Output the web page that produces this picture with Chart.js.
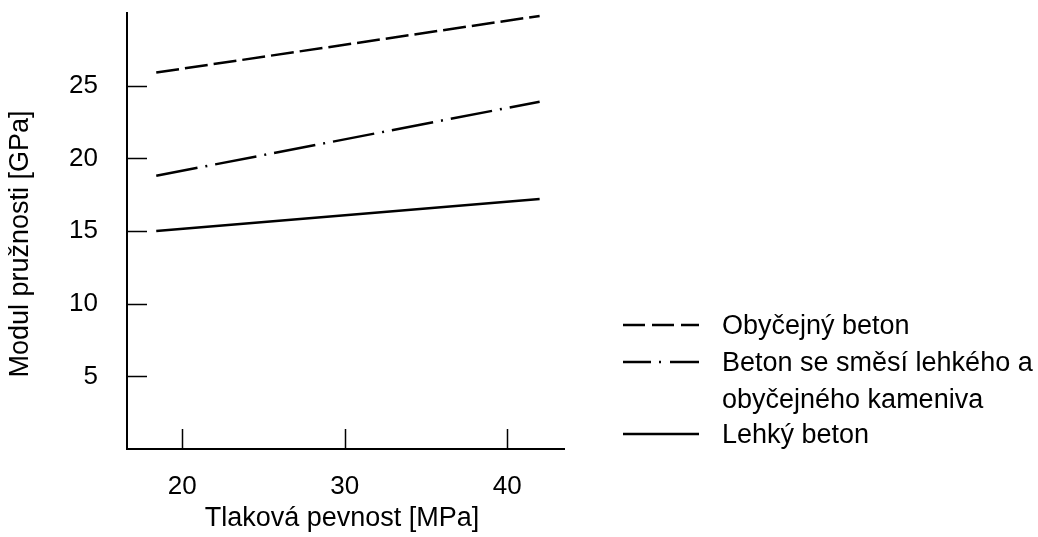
<!DOCTYPE html>
<html>
<head>
<meta charset="utf-8">
<script src="https://cdn.jsdelivr.net/npm/chart.js@4.4.1/dist/chart.umd.min.js"></script>
<style>
  body { margin: 0; background: #fff; }
  canvas { display: block; }
</style>
</head>
<body>
<canvas id="modulChart" width="1038" height="537"></canvas>
<script>
// data
const seriesNames = [
  ["Obyčejný beton"],
  ["Beton se směsí lehkého a", "obyčejného kameniva"],
  ["Lehký beton"]
];
const strengthX = [18.4, 42];          // Tlaková pevnost [MPa]
const obycejnyBeton = [25.9, 29.8];    // Modul pružnosti [GPa]
const smesBeton = [18.8, 23.9];
const lehkyBeton = [15.0, 17.2];
const xTicks = [20, 30, 40];
const yTicks = [5, 10, 15, 20, 25];

const FONT = "'Liberation Sans', Arial, sans-serif";
const dashes = [[23, 6], [42, 8, 2, 8], []];
const legendDashes = [[22, 7], [28, 8, 2, 9, 40], []];

const toPoints = (ys) => strengthX.map((x, i) => ({ x: x, y: ys[i] }));

// no extra room for half tick labels, the chart area is fixed by padding
const noPadding = (scale) => {
  scale.paddingTop = 0;
  scale.paddingBottom = 0;
  scale.paddingLeft = 0;
  scale.paddingRight = 0;
};

// inward ticks, axis titles and the legend on the right
const decorPlugin = {
  id: "decor",
  afterDraw(chart) {
    const ctx = chart.ctx;
    const xs = chart.scales.x;
    const ys = chart.scales.y;
    const area = chart.chartArea;

    ctx.save();
    ctx.strokeStyle = "#000";
    ctx.lineWidth = 1.5;
    ctx.beginPath();
    yTicks.forEach((v) => {
      const py = Math.round(ys.getPixelForValue(v)) + 0.5;
      ctx.moveTo(area.left, py);
      ctx.lineTo(area.left + 20, py);
    });
    xTicks.forEach((v) => {
      const px = Math.round(xs.getPixelForValue(v)) + 0.5;
      ctx.moveTo(px, area.bottom);
      ctx.lineTo(px, area.bottom - 20);
    });
    ctx.stroke();

    // axis titles
    ctx.fillStyle = "#000";
    ctx.font = "27px " + FONT;
    ctx.textAlign = "center";
    ctx.textBaseline = "alphabetic";
    ctx.fillText("Tlaková pevnost [MPa]", 342, 526);
    ctx.save();
    ctx.translate(28, 244);
    ctx.rotate(-Math.PI / 2);
    ctx.fillText("Modul pružnosti [GPa]", 0, 0);
    ctx.restore();

    // legend
    const lineY = [325, 362, 434];
    ctx.textAlign = "left";
    ctx.textBaseline = "middle";
    ctx.lineWidth = 2.5;
    seriesNames.forEach((name, i) => {
      ctx.setLineDash(legendDashes[i]);
      ctx.beginPath();
      ctx.moveTo(623, lineY[i]);
      ctx.lineTo(699, lineY[i]);
      ctx.stroke();
      ctx.setLineDash([]);
      name.forEach((txt, j) => {
        ctx.fillText(txt, 722, lineY[i] + 2 + j * 37);
      });
    });
    ctx.restore();
  }
};

new Chart(document.getElementById("modulChart"), {
  type: "scatter",
  data: {
    datasets: [
      { label: seriesNames[0].join(" "), data: toPoints(obycejnyBeton), borderDash: dashes[0] },
      { label: seriesNames[1].join(" "), data: toPoints(smesBeton), borderDash: dashes[1] },
      { label: seriesNames[2].join(" "), data: toPoints(lehkyBeton), borderDash: dashes[2] }
    ].map((ds) => Object.assign(ds, {
      showLine: true,
      borderColor: "#000",
      backgroundColor: "#000",
      borderWidth: 2.5,
      pointRadius: 0,
      tension: 0,
      fill: false
    }))
  },
  options: {
    responsive: false,
    animation: false,
    layout: { padding: { top: 13, right: 474, bottom: 0, left: 0 } },
    plugins: {
      legend: { display: false },
      tooltip: { enabled: false }
    },
    scales: {
      x: {
        type: "linear",
        min: 16.6,
        max: 43.5,
        afterBuildTicks: (scale) => { scale.ticks = xTicks.map((v) => ({ value: v })); },
        afterFit: (scale) => { scale.height = 88; noPadding(scale); },
        grid: { drawOnChartArea: false, drawTicks: false },
        border: { display: true, color: "#000", width: 2 },
        ticks: { padding: 22, color: "#000", font: { family: FONT, size: 26 } }
      },
      y: {
        type: "linear",
        min: 0,
        max: 30,
        afterBuildTicks: (scale) => { scale.ticks = yTicks.map((v) => ({ value: v })); },
        afterFit: (scale) => { scale.width = 127; noPadding(scale); },
        grid: { drawOnChartArea: false, drawTicks: false },
        border: { display: true, color: "#000", width: 2 },
        ticks: { padding: 29, color: "#000", font: { family: FONT, size: 26 } }
      }
    }
  },
  plugins: [decorPlugin]
});
</script>
</body>
</html>
